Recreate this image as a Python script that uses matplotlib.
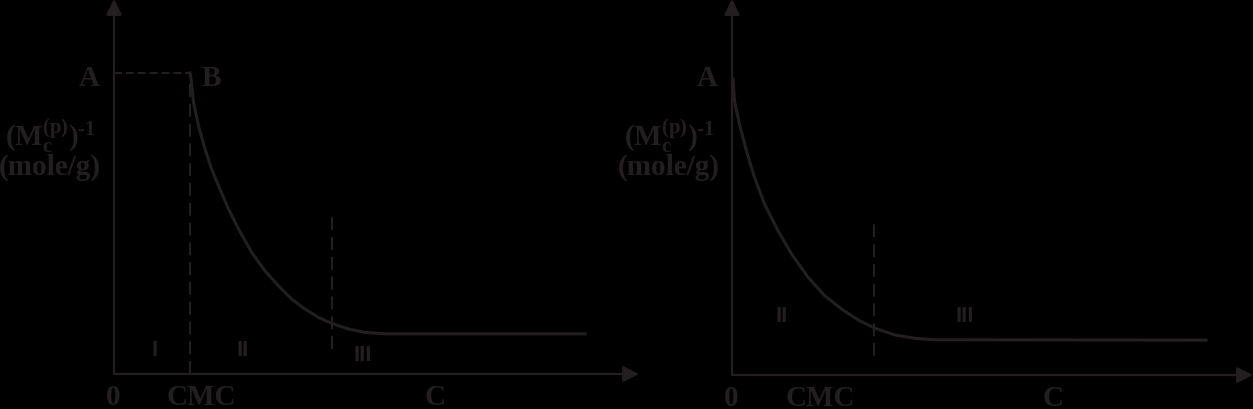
import numpy as np
import matplotlib
matplotlib.use('Agg')
import matplotlib.pyplot as plt

plt.rcParams['font.family'] = ['Liberation Serif', 'DejaVu Serif']
plt.rcParams['mathtext.fontset'] = 'custom'
plt.rcParams['mathtext.rm'] = 'Liberation Serif:bold'
plt.rcParams['mathtext.it'] = 'Liberation Serif:bold'
plt.rcParams['mathtext.bf'] = 'Liberation Serif:bold'

# ---- data (arbitrary units) ----
# left panel: plateau A-B up to CMC, then decay, then flat
left_cmc = 1.52
left_plateau = 8.03
left_x = [1.52, 1.54, 1.59, 1.69, 1.82, 1.95, 2.09, 2.29, 2.49, 2.75, 3.02, 3.29,
          3.55, 3.82, 4.09, 4.35, 4.69, 5.02, 5.42, 9.42]
left_y = [8.03, 7.87, 7.25, 6.62, 6.00, 5.47, 5.02, 4.40, 3.87, 3.25, 2.75, 2.35,
          2.00, 1.73, 1.51, 1.35, 1.20, 1.11, 1.07, 1.07]
left_split = 4.36          # dashed line between regions II and III
left_split_span = [0.67, 4.21]

# right panel: decay starts at A on the axis
right_x = [0.02, 0.05, 0.15, 0.29, 0.45, 0.65, 0.92, 1.19, 1.52, 1.85, 2.19, 2.52,
           2.85, 3.25, 3.65, 4.05, 9.48]
right_y = [7.89, 7.31, 6.69, 5.97, 5.27, 4.56, 3.85, 3.23, 2.61, 2.12, 1.76, 1.47,
           1.25, 1.07, 0.98, 0.94, 0.93]
right_split = 2.84
right_split_span = [0.51, 4.16]

ink = '#231f20'
W, H = 1253, 410
fig = plt.figure(figsize=(W/100, H/100), dpi=100, facecolor='black')

def make_axes(x0, y_axis_px, width_px, xmax, ymax):
    ax = fig.add_axes([x0/W, (H - y_axis_px)/H, width_px/W, y_axis_px/H])
    ax.set_xlim(0, xmax)
    ax.set_ylim(0, ymax)
    ax.set_facecolor('none')
    ax.axis('off')
    arrow = dict(arrowstyle='-|>', mutation_scale=24, lw=1.6, color=ink,
                 shrinkA=0, shrinkB=0)
    ax.annotate('', xy=(0, ymax), xytext=(0, 0), arrowprops=arrow, annotation_clip=False)
    ax.annotate('', xy=(xmax, 0), xytext=(0, 0), arrowprops=arrow, annotation_clip=False)
    return ax

big = dict(fontsize=21, fontweight='bold', color=ink, ha='center', va='baseline')
roman = dict(fontsize=16, fontweight='bold', color=ink, ha='center', va='baseline',
             family='Liberation Sans')
hdash = (0, (3.8, 1.9))
vdash = (0, (6.2, 3.3))
ylab = r'$\mathrm{(M_c^{(p)})^{\text{-1}}}$'

# ============================= left
ax1 = make_axes(114, 375, 525, 10.5, 10.0)
ax1.plot(left_x, left_y, color=ink, lw=2.2, solid_joinstyle='round')
ax1.plot([0, left_cmc], [left_plateau, left_plateau], color=ink, lw=1.5, linestyle=hdash)
ax1.plot([left_cmc, left_cmc], [0, left_plateau], color=ink, lw=1.5, linestyle=vdash)
ax1.plot([left_split, left_split], left_split_span, color=ink, lw=1.5, linestyle=vdash)

ax1.text(-0.5, 7.71, 'A', **big)
ax1.text(1.94, 7.71, 'B', **big)
ax1.text(-1.28, 6.11, ylab, **big)
ax1.text(-1.28, 5.33, '(mole/g)', **big)
ax1.text(-0.02, -0.8, '0', **big)
ax1.text(1.74, -0.8, 'CMC', **big)
ax1.text(6.42, -0.8, 'C', **big)
ax1.text(0.82, 0.51, 'I', **roman)
ax1.text(2.58, 0.51, 'II', **roman)
ax1.text(4.98, 0.37, 'III', **roman)

# ============================= right
ax2 = make_axes(732, 376, 521, 10.42, 10.03)
ax2.plot(right_x, right_y, color=ink, lw=2.2, solid_joinstyle='round')
ax2.plot([right_split, right_split], right_split_span, color=ink, lw=1.5, linestyle=vdash)

ax2.text(-0.5, 7.73, 'A', **big)
ax2.text(-1.26, 6.13, ylab, **big)
ax2.text(-1.26, 5.36, '(mole/g)', **big)
ax2.text(-0.02, -0.8, '0', **big)
ax2.text(1.76, -0.8, 'CMC', **big)
ax2.text(6.42, -0.8, 'C', **big)
ax2.text(1.0, 1.44, 'II', **roman)
ax2.text(4.66, 1.44, 'III', **roman)

fig.savefig('out.png', dpi=100, facecolor='black')
